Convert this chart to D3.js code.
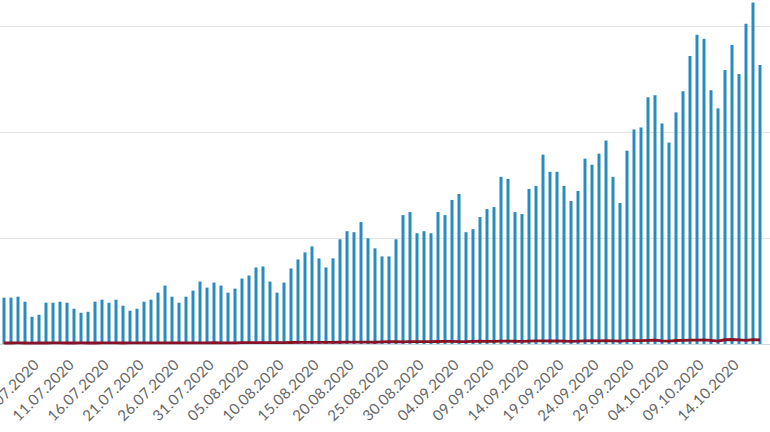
<!DOCTYPE html>
<html>
<head>
<meta charset="utf-8">
<script src="https://cdn.jsdelivr.net/npm/d3@7"></script>
<style>
body { margin: 0; background: #fff; }
text { font-family: Lato, "Open Sans", sans-serif; }
</style>
</head>
<body>
<script>
// daily dates 02.07.2020 .. 18.10.2020
var days = d3.timeDay.range(new Date(2020, 6, 2), new Date(2020, 9, 19));
var fmt = d3.timeFormat("%d.%m.%Y");
var categories = days.map(fmt);

var cases = [874,874,893,798,513,551,779,779,798,779,665,589,608,798,836,779,836,722,627,665,
  798,836,969,1102,893,779,893,1007,1178,1064,1159,1102,969,1045,1235,1292,1444,1463,1178,969,
  1159,1425,1596,1729,1843,1615,1444,1615,1976,2128,2109,2299,1995,1805,1653,1653,1976,2432,2489,2090,
  2128,2090,2489,2432,2717,2831,2109,2166,2394,2546,2584,3154,3116,2489,2451,2926,2983,3572,3249,3249,
  2983,2698,2888,3496,3382,3591,3838,3154,2660,3648,4047,4085,4655,4693,4161,3800,4370,4769,5434,5833,
  5757,4788,4446,5168,5643,5092,6042,6441,5263];

var deaths = [19,19,20,19,18,19,19,20,20,19,19,20,19,19,20,20,21,19,20,20,
  21,21,20,21,22,21,21,22,23,22,24,23,22,23,25,26,25,27,26,25,
  26,28,29,30,31,30,29,31,33,34,35,36,34,33,40,45,42,41,44,46,
  45,43,47,50,48,46,45,49,52,50,49,54,56,52,48,55,58,60,57,58,
  55,50,56,60,62,58,63,60,55,62,65,63,68,72,60,55,66,70,72,75,
  78,70,55,80,85,78,70,82,76];

var tickLabels = ["06.07.2020","11.07.2020","16.07.2020","21.07.2020","26.07.2020","31.07.2020",
  "05.08.2020","10.08.2020","15.08.2020","20.08.2020","25.08.2020","30.08.2020","04.09.2020",
  "09.09.2020","14.09.2020","19.09.2020","24.09.2020","29.09.2020","04.10.2020","09.10.2020","14.10.2020"];
var gridValues = [2000, 4000, 6000];

var width = 770, height = 432;
var baseY = 344;

var svg = d3.select("body").append("svg")
  .attr("width", width).attr("height", height);

var x = d3.scalePoint().domain(categories).range([4, 760]);
var y = d3.scaleLinear().domain([0, 6490]).range([baseY, 0]);

svg.append("g").selectAll("line").data(gridValues).enter().append("line")
  .attr("x1", 0).attr("x2", width)
  .attr("y1", function(d) { return Math.round(y(d)) + 0.5; })
  .attr("y2", function(d) { return Math.round(y(d)) + 0.5; })
  .attr("stroke", "#e4e4e4").attr("stroke-width", 1);

svg.append("g").selectAll("rect").data(cases).enter().append("rect")
  .attr("x", function(d, i) { return x(categories[i]) - 1.5; })
  .attr("width", 3)
  .attr("y", function(d) { return y(d); })
  .attr("height", function(d) { return baseY - y(d); })
  .attr("fill", "#2a8bbd");

svg.append("line").attr("x1", 0).attr("x2", width)
  .attr("y1", baseY + 0.5).attr("y2", baseY + 0.5)
  .attr("stroke", "#c9d6df");

var line = d3.line()
  .x(function(d, i) { return x(categories[i]); })
  .y(function(d) { return y(d); });

svg.append("path").datum(deaths)
  .attr("d", line)
  .attr("fill", "none")
  .attr("stroke", "#8a1226")
  .attr("stroke-width", 2.8);

var xAxis = d3.axisBottom(x).tickValues(tickLabels).tickSize(0).tickPadding(0);
var ax = svg.append("g").attr("transform", "translate(0," + (baseY + 16) + ")").call(xAxis);
ax.select(".domain").remove();
ax.selectAll("text")
  .attr("fill", "#666")
  .style("font-size", "15px")
  .style("letter-spacing", "0.3px")
  .attr("text-anchor", "end")
  .attr("dy", "0.35em")
  .attr("transform", "translate(4,2) rotate(-45)");
</script>
</body>
</html>
